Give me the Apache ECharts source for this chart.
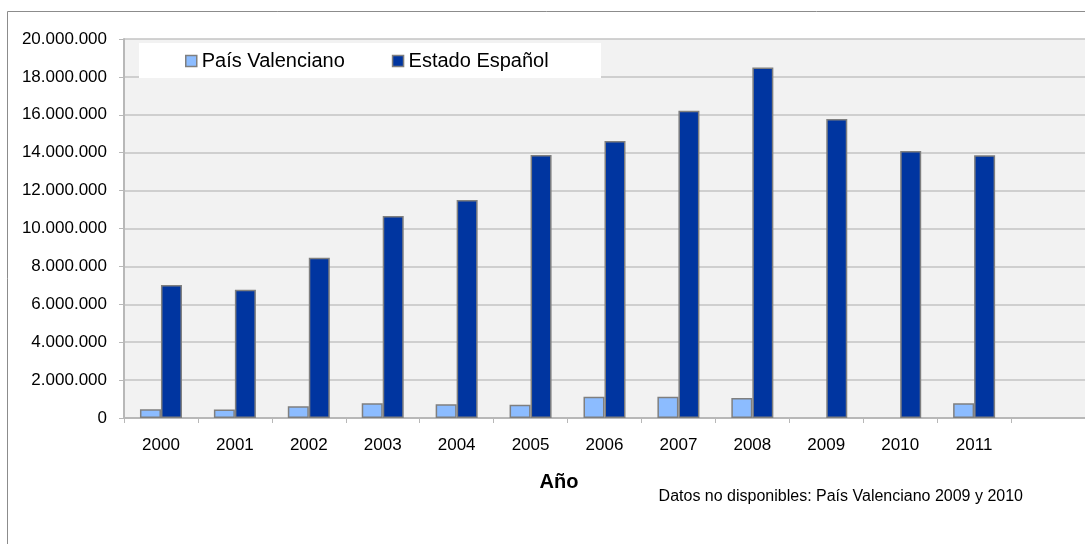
<!DOCTYPE html>
<html>
<head>
<meta charset="utf-8">
<script src="https://cdn.jsdelivr.net/npm/echarts@6/dist/echarts.min.js"></script>
<style>
  html, body { margin: 0; padding: 0; background: #fff; }
  #chart { width: 1085px; height: 544px; }
</style>
</head>
<body>
<div id="chart"></div>
<script>
// Years on the category axis (last slot is left empty)
const years = ['2000', '2001', '2002', '2003', '2004', '2005', '2006', '2007', '2008', '2009', '2010', '2011', ''];

// País Valenciano (no data for 2009 and 2010)
const paisValenciano = [460000, 450000, 620000, 780000, 720000, 700000, 1120000, 1120000, 1050000, null, null, 780000, null];

// Estado Español
const estadoEspanol = [7020000, 6770000, 8460000, 10660000, 11500000, 13880000, 14620000, 16220000, 18490000, 15780000, 14090000, 13870000, null];

const seriesNames = ['País Valenciano', 'Estado Español'];
const axisTitle = 'Año';
const footNote = 'Datos no disponibles: País Valenciano 2009 y 2010';

const yMax = 20000000;
const yStep = 2000000;

const FONT = '"Liberation Sans", Arial, sans-serif';

function withDots(v) {
  return String(v).replace(/\B(?=(\d{3})+(?!\d))/g, '.');
}

const chart = echarts.init(document.getElementById('chart'), null, { renderer: 'canvas' });

chart.setOption({
  backgroundColor: '#ffffff',
  animation: false,
  textStyle: { fontFamily: FONT },
  grid: {
    left: 124,
    top: 39,
    width: 972,
    height: 379,
    show: true,
    backgroundColor: '#f2f2f2',
    borderWidth: 0,
    containLabel: false
  },
  legend: {
    data: seriesNames,
    left: 185,
    top: 51,
    padding: 0,
    itemWidth: 11,
    itemHeight: 11,
    itemGap: 47,
    icon: 'rect',
    itemStyle: { borderColor: '#7f7f7f', borderWidth: 1.5 },
    textStyle: { fontFamily: FONT, fontSize: 20, color: '#000' },
    selectedMode: false
  },
  xAxis: {
    type: 'category',
    data: years,
    axisLine: { show: true, lineStyle: { color: '#b8b8b8', width: 2 } },
    axisTick: { show: true, length: 5, lineStyle: { color: '#b8b8b8', width: 1 } },
    axisLabel: { fontFamily: FONT, fontSize: 17, color: '#000', margin: 19 },
    splitLine: { show: false }
  },
  yAxis: {
    type: 'value',
    min: 0,
    max: yMax,
    interval: yStep,
    axisLine: { show: true, lineStyle: { color: '#b8b8b8', width: 2 } },
    axisTick: { show: true, length: 5, lineStyle: { color: '#b8b8b8', width: 1 } },
    axisLabel: { fontFamily: FONT, fontSize: 17, color: '#000', margin: 17, formatter: withDots },
    splitLine: { show: true, lineStyle: { color: '#c3c3c3', width: 1.5 } }
  },
  graphic: [
    {
      type: 'rect',
      silent: true,
      z: -1,
      shape: { x: 7.5, y: 11.5, width: 1200, height: 700 },
      style: { fill: 'none', stroke: '#8c8c8c', lineWidth: 1 }
    },
    {
      type: 'rect',
      silent: true,
      z: 1,
      shape: { x: 139, y: 43, width: 462, height: 35 },
      style: { fill: '#ffffff' }
    },
    {
      type: 'text',
      silent: true,
      z: 5,
      x: 559,
      y: 482,
      style: {
        text: axisTitle,
        font: 'bold 20px ' + FONT,
        fill: '#000',
        align: 'center',
        verticalAlign: 'middle'
      }
    },
    {
      type: 'text',
      silent: true,
      z: 5,
      x: 1023,
      y: 497,
      style: {
        text: footNote,
        font: '16px ' + FONT,
        fill: '#000',
        align: 'right',
        verticalAlign: 'middle'
      }
    }
  ],
  series: [
    {
      name: seriesNames[0],
      type: 'bar',
      data: paisValenciano,
      barWidth: 21,
      barGap: '0%',
      itemStyle: { color: '#8cbcff', borderColor: '#7f7f7f', borderWidth: 1.5 }
    },
    {
      name: seriesNames[1],
      type: 'bar',
      data: estadoEspanol,
      barWidth: 21,
      barGap: '0%',
      itemStyle: { color: '#0035a0', borderColor: '#7f7f7f', borderWidth: 1.5 }
    }
  ]
});
</script>
</body>
</html>
